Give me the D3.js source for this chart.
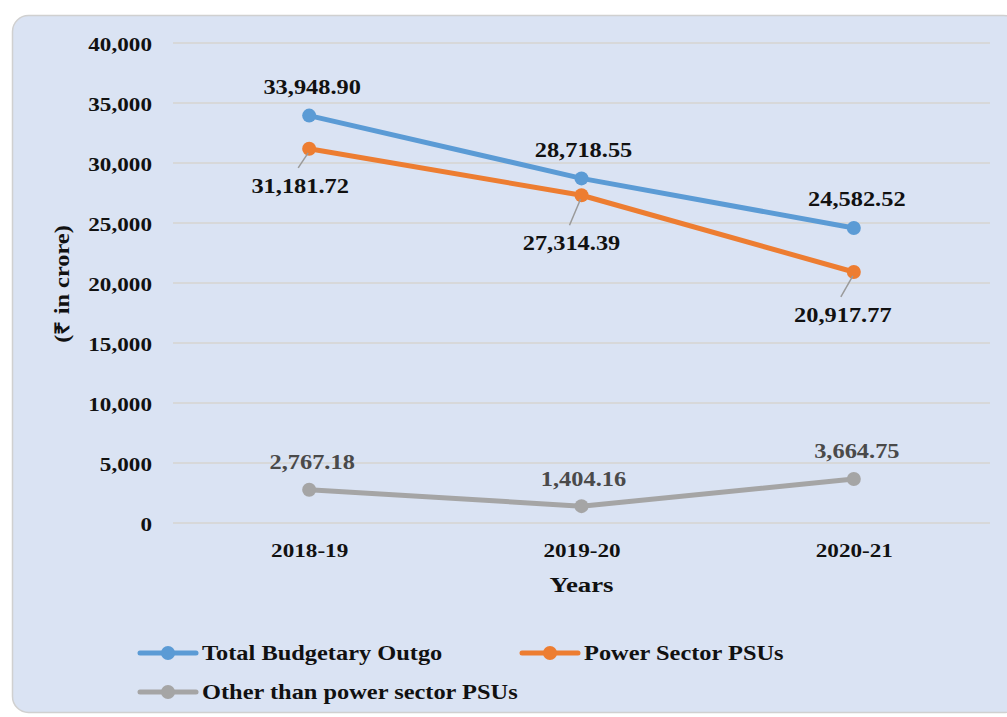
<!DOCTYPE html>
<html>
<head>
<meta charset="utf-8">
<script src="https://cdn.jsdelivr.net/npm/d3@7/dist/d3.min.js"></script>
</head>
<body style="margin:0;background:#ffffff">
<svg id="chart" width="1007" height="717" style="display:block"></svg>
<script>
// Budgetary outgo by year (₹ in crore)
const years = ["2018-19", "2019-20", "2020-21"];
const totalOutgo = [33948.90, 28718.55, 24582.52];
const powerPSUs = [31181.72, 27314.39, 20917.77];
const otherPSUs = [2767.18, 1404.16, 3664.75];
const yTicks = [0, 5000, 10000, 15000, 20000, 25000, 30000, 35000, 40000];
const seriesNames = ["Total Budgetary Outgo", "Power Sector PSUs", "Other than power sector PSUs"];

const series = [
  { name: seriesNames[0], values: totalOutgo, color: "#5B9BD5", labelColor: "#111111",
    // label offsets relative to each point: [dx, dy]
    offsets: [[3, -22], [2, -21], [3, -22]], leader: false },
  { name: seriesNames[1], values: powerPSUs, color: "#ED7D31", labelColor: "#111111",
    offsets: [[-9, 44], [-10, 55], [-11, 50]], leader: true },
  { name: seriesNames[2], values: otherPSUs, color: "#A5A5A5", labelColor: "#4a4a4a",
    offsets: [[3, -21], [2, -20], [3, -21]], leader: false }
];

const FONT = "'Liberation Serif', 'Times New Roman', serif";
const SX = 1.22; // horizontal stretch of the lettering
// shared text styling
const styleText = (sel, size) => sel
  .style("font-family", FONT)
  .style("font-weight", "bold")
  .style("font-size", size + "px");
// place a text at (x, y) with horizontal stretch
const at = (tx, ty, extra = "") => `translate(${tx},${ty}) ${extra} scale(${SX},1)`;

const svg = d3.select("#chart");

// panel background
svg.append("rect")
  .attr("x", 12.5).attr("y", 15.5)
  .attr("width", 1007).attr("height", 697)
  .attr("rx", 16).attr("ry", 16)
  .attr("fill", "#DAE3F3")
  .attr("stroke", "#d0d0d0").attr("stroke-width", 1.5);

const plot = { left: 173, right: 990, top: 43, bottom: 523 };

const x = d3.scalePoint().domain(years).range([plot.left, plot.right]).padding(0.5);
const y = d3.scaleLinear().domain([0, 40000]).range([plot.bottom, plot.top]);

// gridlines
svg.append("g").selectAll("line").data(yTicks).join("line")
  .attr("x1", plot.left).attr("x2", plot.right)
  .attr("y1", d => y(d)).attr("y2", d => y(d))
  .attr("stroke", "#d6d4d0").attr("stroke-width", 1.5);

// y axis labels
const yAxis = d3.axisLeft(y).tickValues(yTicks).tickSize(0).tickPadding(0)
  .tickFormat(d3.format(","));
svg.append("g")
  .attr("transform", `translate(152,0)`)
  .call(yAxis)
  .call(g => g.select(".domain").remove())
  .call(g => g.selectAll("text")
    .call(styleText, 19)
    .attr("fill", "#111")
    .attr("x", 0).attr("y", 7).attr("dy", 0)
    .attr("transform", `scale(${SX},1)`));

// x axis labels
const xAxis = d3.axisBottom(x).tickSize(0).tickPadding(0);
svg.append("g")
  .attr("transform", `translate(0,${plot.bottom})`)
  .call(xAxis)
  .call(g => g.select(".domain").remove())
  .call(g => g.selectAll("text")
    .call(styleText, 19)
    .attr("fill", "#111")
    .attr("y", 34).attr("dy", 0)
    .attr("transform", `scale(${SX},1)`));

// axis titles
svg.append("text")
  .attr("transform", at((plot.left + plot.right) / 2, 592))
  .attr("text-anchor", "middle")
  .call(styleText, 22)
  .attr("fill", "#111")
  .text("Years");

svg.append("text")
  .attr("transform", at(69, (plot.top + plot.bottom) / 2 + 1, "rotate(-90)"))
  .attr("text-anchor", "middle")
  .call(styleText, 20)
  .attr("fill", "#111")
  .text("(₹ in crore)");

// lines and markers
const line = d3.line().x((d, i) => x(years[i])).y(d => y(d));
const fmt = d3.format(",.2f");

series.forEach(s => {
  svg.append("path")
    .datum(s.values)
    .attr("d", line)
    .attr("fill", "none")
    .attr("stroke", s.color)
    .attr("stroke-width", 5)
    .attr("stroke-linecap", "round")
    .attr("stroke-linejoin", "round");

  svg.append("g").selectAll("circle").data(s.values).join("circle")
    .attr("cx", (d, i) => x(years[i]))
    .attr("cy", d => y(d))
    .attr("r", 7)
    .attr("fill", s.color);

  if (s.leader) {
    svg.append("g").selectAll("line").data(s.values).join("line")
      .attr("x1", (d, i) => x(years[i]) - 1)
      .attr("y1", d => y(d) + 4)
      .attr("x2", (d, i) => x(years[i]) + s.offsets[i][0] - 2)
      .attr("y2", (d, i) => y(d) + s.offsets[i][1] - 25)
      .attr("stroke", "#9a9a9a").attr("stroke-width", 1.5);
  }

  svg.append("g").selectAll("text").data(s.values).join("text")
    .attr("transform", (d, i) => at(x(years[i]) + s.offsets[i][0], y(d) + s.offsets[i][1]))
    .attr("text-anchor", "middle")
    .call(styleText, 20)
    .attr("fill", s.labelColor)
    .text(d => fmt(d));
});

// legend
const legendItems = [
  { s: series[0], x: 140, y: 653 },
  { s: series[1], x: 522, y: 653 },
  { s: series[2], x: 140, y: 692 }
];
const lg = svg.append("g").selectAll("g").data(legendItems).join("g")
  .attr("transform", d => `translate(${d.x},${d.y})`);
lg.append("line")
  .attr("x1", 0).attr("x2", 56).attr("y1", 0).attr("y2", 0)
  .attr("stroke", d => d.s.color).attr("stroke-width", 5).attr("stroke-linecap", "round");
lg.append("circle")
  .attr("cx", 28).attr("cy", 0).attr("r", 7)
  .attr("fill", d => d.s.color);
lg.append("text")
  .attr("transform", at(62, 7))
  .call(styleText, 20)
  .attr("fill", "#111")
  .text(d => d.s.name);
</script>
</body>
</html>
